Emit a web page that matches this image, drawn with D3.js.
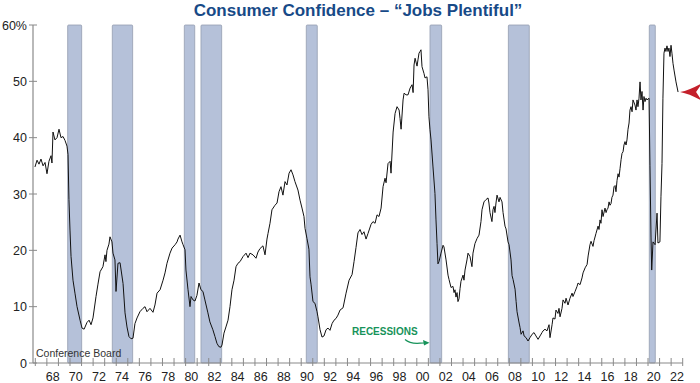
<!DOCTYPE html>
<html>
<head>
<meta charset="utf-8">
<script src="https://cdn.jsdelivr.net/npm/d3@7"></script>
<style>
  body { margin: 0; background: #fff; }
  svg { display: block; font-family: "Liberation Sans", Arial, sans-serif; }
</style>
</head>
<body>
<div class="chart"></div>
<script>
const W = 700, H = 383;

// recession bands (decimal years, as drawn)
const recStart = [1969.80, 1973.66, 1979.89, 1981.33, 1990.44, 2001.14, 2007.92, 2020.11];
const recEnd   = [1971.01, 1975.42, 1980.79, 1983.12, 1991.39, 2002.15, 2009.73, 2020.63];

const yTicks = [0, 10, 20, 30, 40, 50, 60];
const xLabelYears = d3.range(1968, 2023, 2);

// "Jobs Plentiful" share, %
const dates = [
  1966.97,1967.15,1967.32,1967.49,1967.67,1967.84,1968.01,1968.18,1968.36,1968.44,1968.53,1968.70,1968.88,
  1969.05,1969.22,1969.40,1969.57,1969.74,1969.83,1969.91,1970.00,1970.09,1970.26,1970.43,1970.61,1970.87,
  1971.04,1971.22,1971.47,1971.65,1971.82,1971.99,1972.25,1972.42,1972.60,1972.85,1973.03,1973.11,1973.20,
  1973.37,1973.46,1973.63,1973.72,1973.89,1973.98,1974.15,1974.33,1974.59,1974.76,1974.93,1975.10,1975.28,
  1975.45,1975.62,1975.80,1976.05,1976.31,1976.49,1976.66,1976.92,1977.18,1977.35,1977.53,1977.79,1978.05,
  1978.22,1978.39,1978.65,1978.83,1979.09,1979.26,1979.34,1979.52,1979.69,1979.78,1979.95,1980.03,1980.21,
  1980.38,1980.47,1980.64,1980.81,1980.98,1981.16,1981.33,1981.50,1981.67,1981.93,1982.10,1982.36,1982.54,
  1982.71,1982.88,1983.06,1983.15,1983.32,1983.49,1983.67,1983.84,1984.01,1984.19,1984.36,1984.53,1984.71,
  1984.97,1985.23,1985.40,1985.57,1985.83,1986.09,1986.26,1986.43,1986.69,1986.87,1987.04,1987.13,1987.30,
  1987.47,1987.73,1987.91,1988.08,1988.25,1988.42,1988.60,1988.77,1988.95,1989.12,1989.29,1989.46,1989.72,
  1989.90,1990.07,1990.24,1990.33,1990.50,1990.67,1990.76,1990.85,1991.02,1991.19,1991.37,1991.45,1991.63,
  1991.80,1991.97,1992.15,1992.32,1992.49,1992.67,1992.84,1993.01,1993.18,1993.36,1993.62,1993.88,1994.14,
  1994.40,1994.57,1994.74,1994.91,1995.09,1995.26,1995.43,1995.61,1995.78,1996.04,1996.21,1996.39,1996.56,
  1996.73,1996.91,1997.08,1997.25,1997.34,1997.51,1997.69,1997.77,1997.95,1998.12,1998.29,1998.47,1998.55,
  1998.64,1998.81,1998.90,1999.07,1999.24,1999.42,1999.59,1999.68,1999.76,1999.85,2000.02,2000.10,2000.19,
  2000.28,2000.36,2000.45,2000.62,2000.71,2000.88,2000.97,2001.05,2001.14,2001.23,2001.40,2001.57,2001.66,
  2001.75,2001.83,2001.92,2002.09,2002.27,2002.35,2002.53,2002.70,2002.79,2002.96,2003.13,2003.22,2003.30,
  2003.39,2003.48,2003.56,2003.65,2003.74,2003.82,2004.00,2004.08,2004.17,2004.34,2004.43,2004.60,2004.77,
  2004.86,2005.03,2005.21,2005.38,2005.55,2005.64,2005.81,2005.98,2006.16,2006.24,2006.33,2006.50,2006.59,
  2006.68,2006.76,2006.85,2006.94,2007.11,2007.20,2007.37,2007.46,2007.63,2007.72,2007.89,2007.98,2008.15,
  2008.24,2008.33,2008.50,2008.59,2008.67,2008.85,2008.93,2009.02,2009.19,2009.28,2009.45,2009.62,2009.79,
  2009.97,2010.14,2010.31,2010.49,2010.66,2010.83,2010.92,2011.09,2011.26,2011.44,2011.52,2011.70,2011.78,
  2011.95,2012.04,2012.21,2012.30,2012.39,2012.56,2012.65,2012.82,2012.91,2013.08,2013.25,2013.43,2013.51,
  2013.69,2013.86,2013.95,2014.12,2014.29,2014.38,2014.56,2014.73,2014.82,2014.98,2015.07,2015.24,2015.33,
  2015.50,2015.68,2015.76,2015.85,2015.93,2016.02,2016.11,2016.28,2016.37,2016.45,2016.54,2016.63,2016.71,
  2016.80,2016.88,2016.97,2017.06,2017.15,2017.23,2017.32,2017.41,2017.49,2017.58,2017.67,2017.75,2017.84,
  2017.92,2018.01,2018.10,2018.18,2018.27,2018.36,2018.44,2018.53,2018.62,2018.70,2018.87,2018.96,2019.05,
  2019.13,2019.22,2019.31,2019.39,2019.48,2019.57,2019.65,2019.74,2019.83,2019.91,2020.09,2020.17,2020.26,
  2020.32,2020.43,2020.61,2020.78,2020.86,2021.03,2021.12,2021.21,2021.29,2021.38,2021.47,2021.55,2021.64,
  2021.73,2021.81,2021.90,2021.99,2022.07,2022.16,2022.25,2022.42,2022.60
];
const values = [
  34.8,36.0,35.3,36.2,35.0,35.6,33.6,35.8,36.8,35.5,41.0,39.6,40.0,
  41.5,40.0,40.2,39.5,38.5,37.0,29.0,23.6,18.9,14.7,12.4,10.0,7.6,
  6.2,6.0,7.2,7.6,6.8,8.0,11.8,14.0,16.2,17.1,19.2,18.0,20.0,
  21.1,22.4,21.5,19.5,18.3,12.7,17.7,17.8,14.1,8.9,6.4,4.7,4.3,
  4.4,7.0,8.0,9.1,9.7,10.0,9.1,9.7,9.0,10.3,12.4,13.0,14.7,
  16.0,17.7,19.5,20.4,21.0,21.5,22.0,22.7,21.5,21.0,20.1,16.5,13.0,
  10.0,11.8,11.2,11.0,12.0,14.2,13.0,12.7,11.2,8.9,7.3,5.9,4.7,
  3.5,2.9,2.8,3.2,5.3,6.4,7.6,10.0,13.0,14.7,17.1,17.7,18.0,
  18.9,19.5,18.7,19.5,19.2,18.6,19.7,20.3,20.8,19.2,22.0,23.0,24.8,
  27.2,28.0,28.4,30.4,31.3,29.8,32.2,31.6,33.7,34.3,33.4,32.2,30.7,
  28.9,27.5,26.0,23.9,22.1,20.2,15.3,14.0,10.9,10.6,9.1,8.2,5.9,
  4.6,4.8,5.9,6.2,5.8,7.0,7.6,7.9,8.5,9.4,9.8,12.4,14.7,
  15.7,18.0,20.5,23.1,23.7,22.8,23.3,22.0,23.0,24.6,25.1,24.8,26.3,
  26.0,27.5,31.3,32.8,32.0,35.4,35.8,33.7,41.0,44.3,45.5,44.9,43.4,
  41.5,46.7,47.9,47.6,47.6,48.8,49.4,48.0,52.9,54.1,52.7,53.8,55.0,
  55.3,55.6,52.6,51.4,50.6,50.8,48.5,43.7,41.4,39.6,34.8,30.1,25.4,
  21.2,17.6,18.0,19.5,20.9,20.6,18.3,15.6,14.8,13.4,13.6,12.5,13.0,
  11.7,12.5,10.9,11.4,13.2,14.5,15.6,14.7,16.5,18.3,19.5,18.9,17.1,
  19.5,21.2,22.1,22.7,25.1,27.2,28.6,29.0,29.3,28.4,26.7,25.1,27.2,
  27.8,26.7,28.4,29.8,28.6,29.4,28.6,26.7,24.3,23.8,21.5,21.0,18.3,
  15.5,14.8,13.1,10.9,9.1,7.1,6.3,5.1,5.7,4.8,4.5,3.9,4.5,
  5.1,5.4,4.8,4.2,4.8,5.4,5.7,6.0,5.7,6.8,4.5,6.8,8.0,
  7.8,9.4,8.8,9.7,8.2,9.7,11.2,10.6,11.5,10.3,11.5,12.4,11.8,
  12.7,13.6,14.2,13.9,15.1,16.0,16.9,17.5,19.0,21.0,21.6,20.7,21.7,
  23.0,24.3,23.7,25.4,24.8,27.2,26.0,27.5,26.7,27.2,27.5,28.6,28.0,
  28.3,29.4,29.8,31.3,31.5,30.4,32.4,33.6,33.0,34.5,36.1,37.2,37.5,
  38.7,39.3,38.7,39.6,41.5,42.6,44.9,45.5,44.6,46.7,45.8,44.9,46.7,
  45.5,47.0,49.9,46.7,48.2,44.9,47.3,46.4,47.0,46.7,47.0,35.0,22.2,
  16.5,21.5,21.0,26.6,21.3,21.5,29.5,35.4,47.0,55.0,55.9,55.3,56.3,
  55.3,55.9,54.4,56.4,55.0,53.2,52.0,49.9,48.1
];

const series = dates.map((d, i) => ({ t: d, v: values[i] }));

const x = d3.scaleLinear().domain([1966.8, 2023]).range([33, 682.7]);
const y = d3.scaleLinear().domain([0, 60]).range([363, 25]);

const svg = d3.select(".chart").append("svg")
    .attr("width", W)
    .attr("height", H);

// title
svg.append("text")
    .attr("x", 358)
    .attr("y", 16)
    .attr("text-anchor", "middle")
    .attr("font-size", 17)
    .attr("font-weight", "bold")
    .attr("fill", "#174a87")
    .text("Consumer Confidence \u2013 \u201cJobs Plentiful\u201d");

// recession bands
svg.append("g")
    .selectAll("rect")
    .data(recStart)
    .join("rect")
    .attr("x", (d) => x(d))
    .attr("y", y(60))
    .attr("width", (d, i) => x(recEnd[i]) - x(d))
    .attr("height", y(0) - y(60))
    .attr("rx", 1)
    .attr("fill", "#b5c1d9")
    .attr("stroke", "#949db0")
    .attr("stroke-width", 0.8);

// y axis
const yAxis = svg.append("g").attr("transform", `translate(${x(1966.8)},0)`);
yAxis.append("line")
    .attr("y1", y(60)).attr("y2", y(0))
    .attr("stroke", "#8a8a8a").attr("stroke-width", 1.2);
yAxis.selectAll(".tk")
    .data(yTicks)
    .join("line")
    .attr("x1", -4).attr("x2", 4)
    .attr("y1", (d) => y(d)).attr("y2", (d) => y(d))
    .attr("stroke", "#8a8a8a");
yAxis.selectAll("text")
    .data(yTicks)
    .join("text")
    .attr("x", -6)
    .attr("y", (d) => y(d) + 4.5)
    .attr("text-anchor", "end")
    .attr("font-size", 12.5)
    .attr("fill", "#222")
    .text((d) => d === 60 ? "60%" : d);

// x axis
const xAxis = svg.append("g").attr("transform", `translate(0,${y(0)})`);
xAxis.append("line")
    .attr("x1", x(1966.8)).attr("x2", x(2023))
    .attr("stroke", "#8a8a8a").attr("stroke-width", 1.2);
xAxis.selectAll(".tk")
    .data(d3.range(1967, 2024))
    .join("line")
    .attr("x1", (d) => x(d)).attr("x2", (d) => x(d))
    .attr("y1", -5).attr("y2", 3)
    .attr("stroke", "#8a8a8a");
xAxis.selectAll("text")
    .data(xLabelYears)
    .join("text")
    .attr("x", (d) => x(d + 0.5))
    .attr("y", 18)
    .attr("text-anchor", "middle")
    .attr("font-size", 12.5)
    .attr("fill", "#222")
    .text((d) => String(d % 100).padStart(2, "0"));

// the series
const line = d3.line()
    .x((d) => x(d.t))
    .y((d) => y(d.v));

svg.append("path")
    .datum(series)
    .attr("d", line)
    .attr("fill", "none")
    .attr("stroke", "#111")
    .attr("stroke-width", 1)
    .attr("stroke-linejoin", "round");

// source label
svg.append("text")
    .attr("x", 36)
    .attr("y", 357)
    .attr("font-size", 10.5)
    .attr("fill", "#333")
    .text("Conference Board");

// recessions annotation
svg.append("text")
    .attr("x", 352)
    .attr("y", 335)
    .attr("font-size", 10)
    .attr("font-weight", "bold")
    .attr("fill", "#17935a")
    .text("RECESSIONS");
svg.append("path")
    .attr("d", "M405,339.5 Q410,344 420,343.2 L424,343")
    .attr("fill", "none")
    .attr("stroke", "#17935a")
    .attr("stroke-width", 1.2);
svg.append("path")
    .attr("d", "M429.5,342.8 L423,340 L424,345.5 Z")
    .attr("fill", "#17935a");

// red marker at the latest reading
const last = series[series.length - 1];
const ax = x(last.t) + 2, ay = y(last.v);
svg.append("path")
    .attr("d", `M${ax},${ay} Q${ax + 10},${ay - 2} ${ax + 22},${ay - 9} L${ax + 16},${ay} L${ax + 22},${ay + 9} Q${ax + 10},${ay + 2} ${ax},${ay} Z`)
    .attr("fill", "#c4202b");
</script>
</body>
</html>
